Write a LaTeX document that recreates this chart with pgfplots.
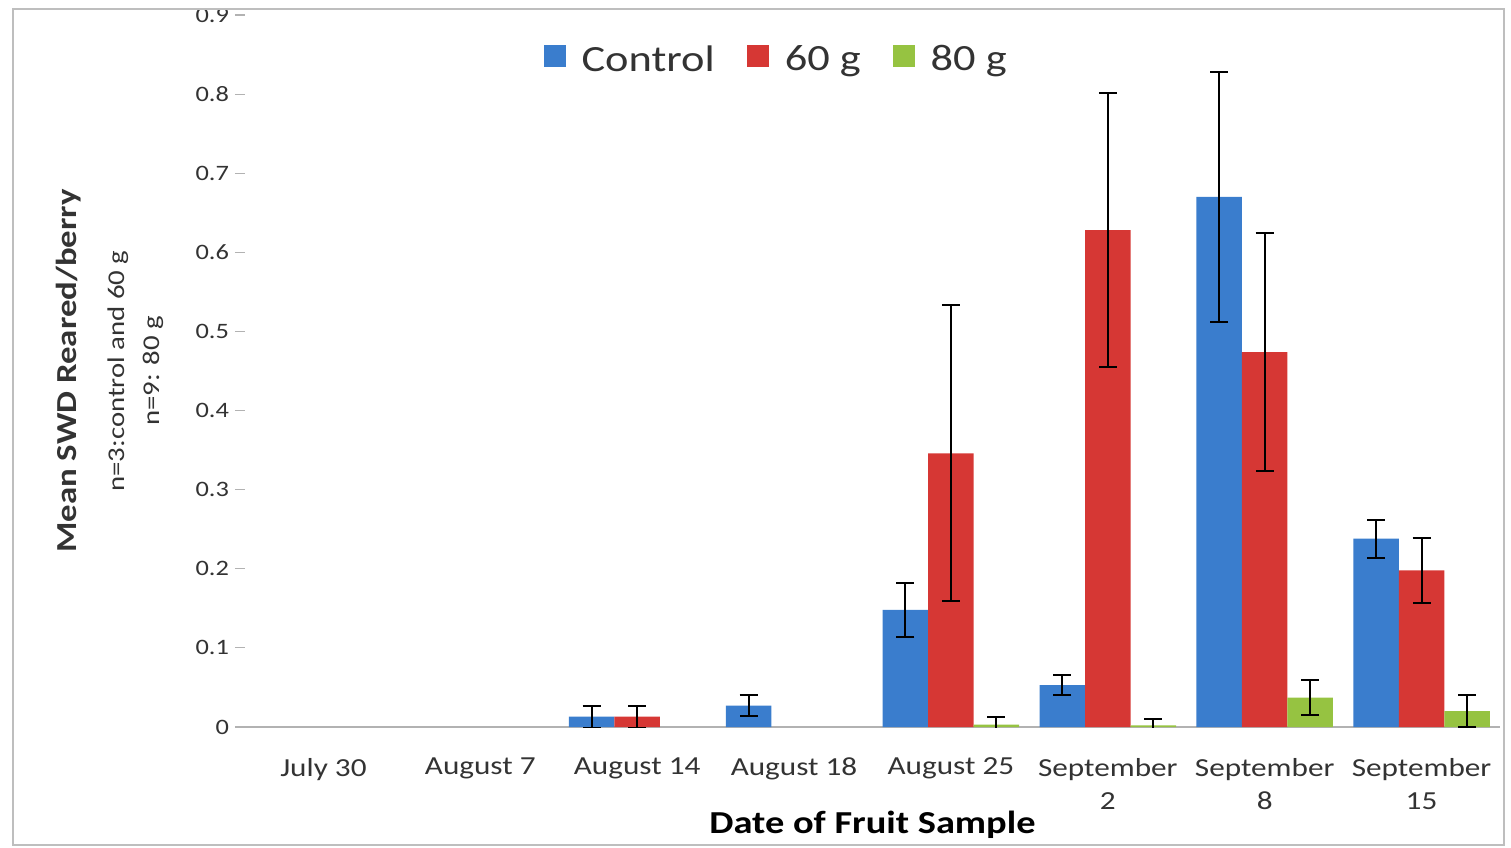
\documentclass[border=0pt]{standalone}
\usepackage{fontspec}
\setmainfont{Carlito}[FakeStretch=1.2]
\usepackage{pgfplots}
\pgfplotsset{compat=1.18}
\definecolor{cblue}{RGB}{58,125,205}
\definecolor{cred}{RGB}{214,55,52}
\definecolor{cgreen}{RGB}{150,195,65}
\definecolor{framegray}{RGB}{190,190,190}
\begin{document}
\begin{tikzpicture}
\useasboundingbox (0,0) rectangle (755.5pt,423.5pt);
\begin{scope}
\clip (0,0) rectangle (755.5pt,419pt);
\begin{axis}[
  at={(122.5pt,60pt)}, anchor=south west,
  scale only axis, width=627.5pt, height=356pt,
  ybar=0pt, bar width=0.29,
  xmin=-0.5, xmax=7.5, ymin=0, ymax=0.9,
  axis lines*=left, separate axis lines,
  x axis line style={draw=gray!60, line width=0.8pt, -},
  y axis line style={draw=none},
  xtick={0,...,7},
  xticklabels={July 30, August 7, August 14, August 18, August 25, {September\\2}, {September\\8}, {September\\15}},
  xticklabel style={align=center, font=\fontsize{13}{16.5}\selectfont, text=black!80, yshift=-7pt},
  x tick style={draw=none},
  extra x ticks={-0.5,0.5,...,7.5},
  extra x tick labels={},
  extra x tick style={tick align=outside, major tick length=4pt, tick style={draw=gray!60, line width=0.6pt}},
  ytick={0,0.1,0.2,0.3,0.4,0.5,0.6,0.7,0.8,0.9},
  yticklabel style={font=\fontsize{11}{13}\selectfont, text=black!80, xshift=0.5pt},
  y tick style={draw=gray!60, line width=0.6pt},
  tick align=outside, major tick length=5pt,
  /pgf/number format/.cd, fixed, precision=1, assume math mode=true, /pgfplots/.cd,
  ylabel={{\fontsize{14.5}{17}\selectfont\bfseries Mean SWD Reared/berry}\\[6.5pt]{n=3:control and 60 g}\\{n=9: 80 g}},
  ylabel style={at={(axis description cs:-0.108,0.5)}, anchor=center, align=center, font=\fontsize{12}{17.5}\selectfont, text=black!80},
  xlabel={Date of Fruit Sample},
  xlabel style={at={(axis description cs:0.5,-0.1376)}, anchor=center, font=\fontsize{16}{18}\selectfont\bfseries},
  legend style={at={(0.424,0.937)}, anchor=center, draw=none, fill=none,
    legend columns=-1, font=\fontsize{18.5}{20}\selectfont, text=black!80,
    /tikz/every odd column/.append style={column sep=6pt},
    /tikz/every even column/.append style={column sep=14pt}},
  legend image code/.code={\fill[#1] (0pt,-3.5pt) rectangle (11pt,7.5pt);},
  error bars/y dir=both, error bars/y explicit,
  error bars/error bar style={black, line width=1pt},
  error bars/error mark options={black, rotate=90, mark size=4.5pt, line width=1pt},
]
\addplot[fill=cblue, draw=none] coordinates {
  (2,0.013) +- (0,0.014)
  (3,0.027) +- (0,0.013)
  (4,0.148) +- (0,0.034)
  (5,0.053) +- (0,0.013)
  (6,0.670) +- (0,0.158)
  (7,0.238) +- (0,0.024)
};
\addlegendentry{Control}
\addplot[fill=cred, draw=none] coordinates {
  (2,0.013) +- (0,0.014)
  (4,0.346) +- (0,0.187)
  (5,0.628) +- (0,0.173)
  (6,0.474) +- (0,0.150)
  (7,0.198) +- (0,0.041)
};
\addlegendentry{60 g}
\addplot[fill=cgreen, draw=none] coordinates {
  (4,0.003) +- (0,0.010)
  (5,0.002) +- (0,0.008)
  (6,0.037) +- (0,0.022)
  (7,0.020) +- (0,0.020)
};
\addlegendentry{80 g}
\end{axis}
\end{scope}
\draw[framegray, line width=1.2pt] (6.5pt,1pt) rectangle (752pt,419pt);
\end{tikzpicture}
\end{document}
